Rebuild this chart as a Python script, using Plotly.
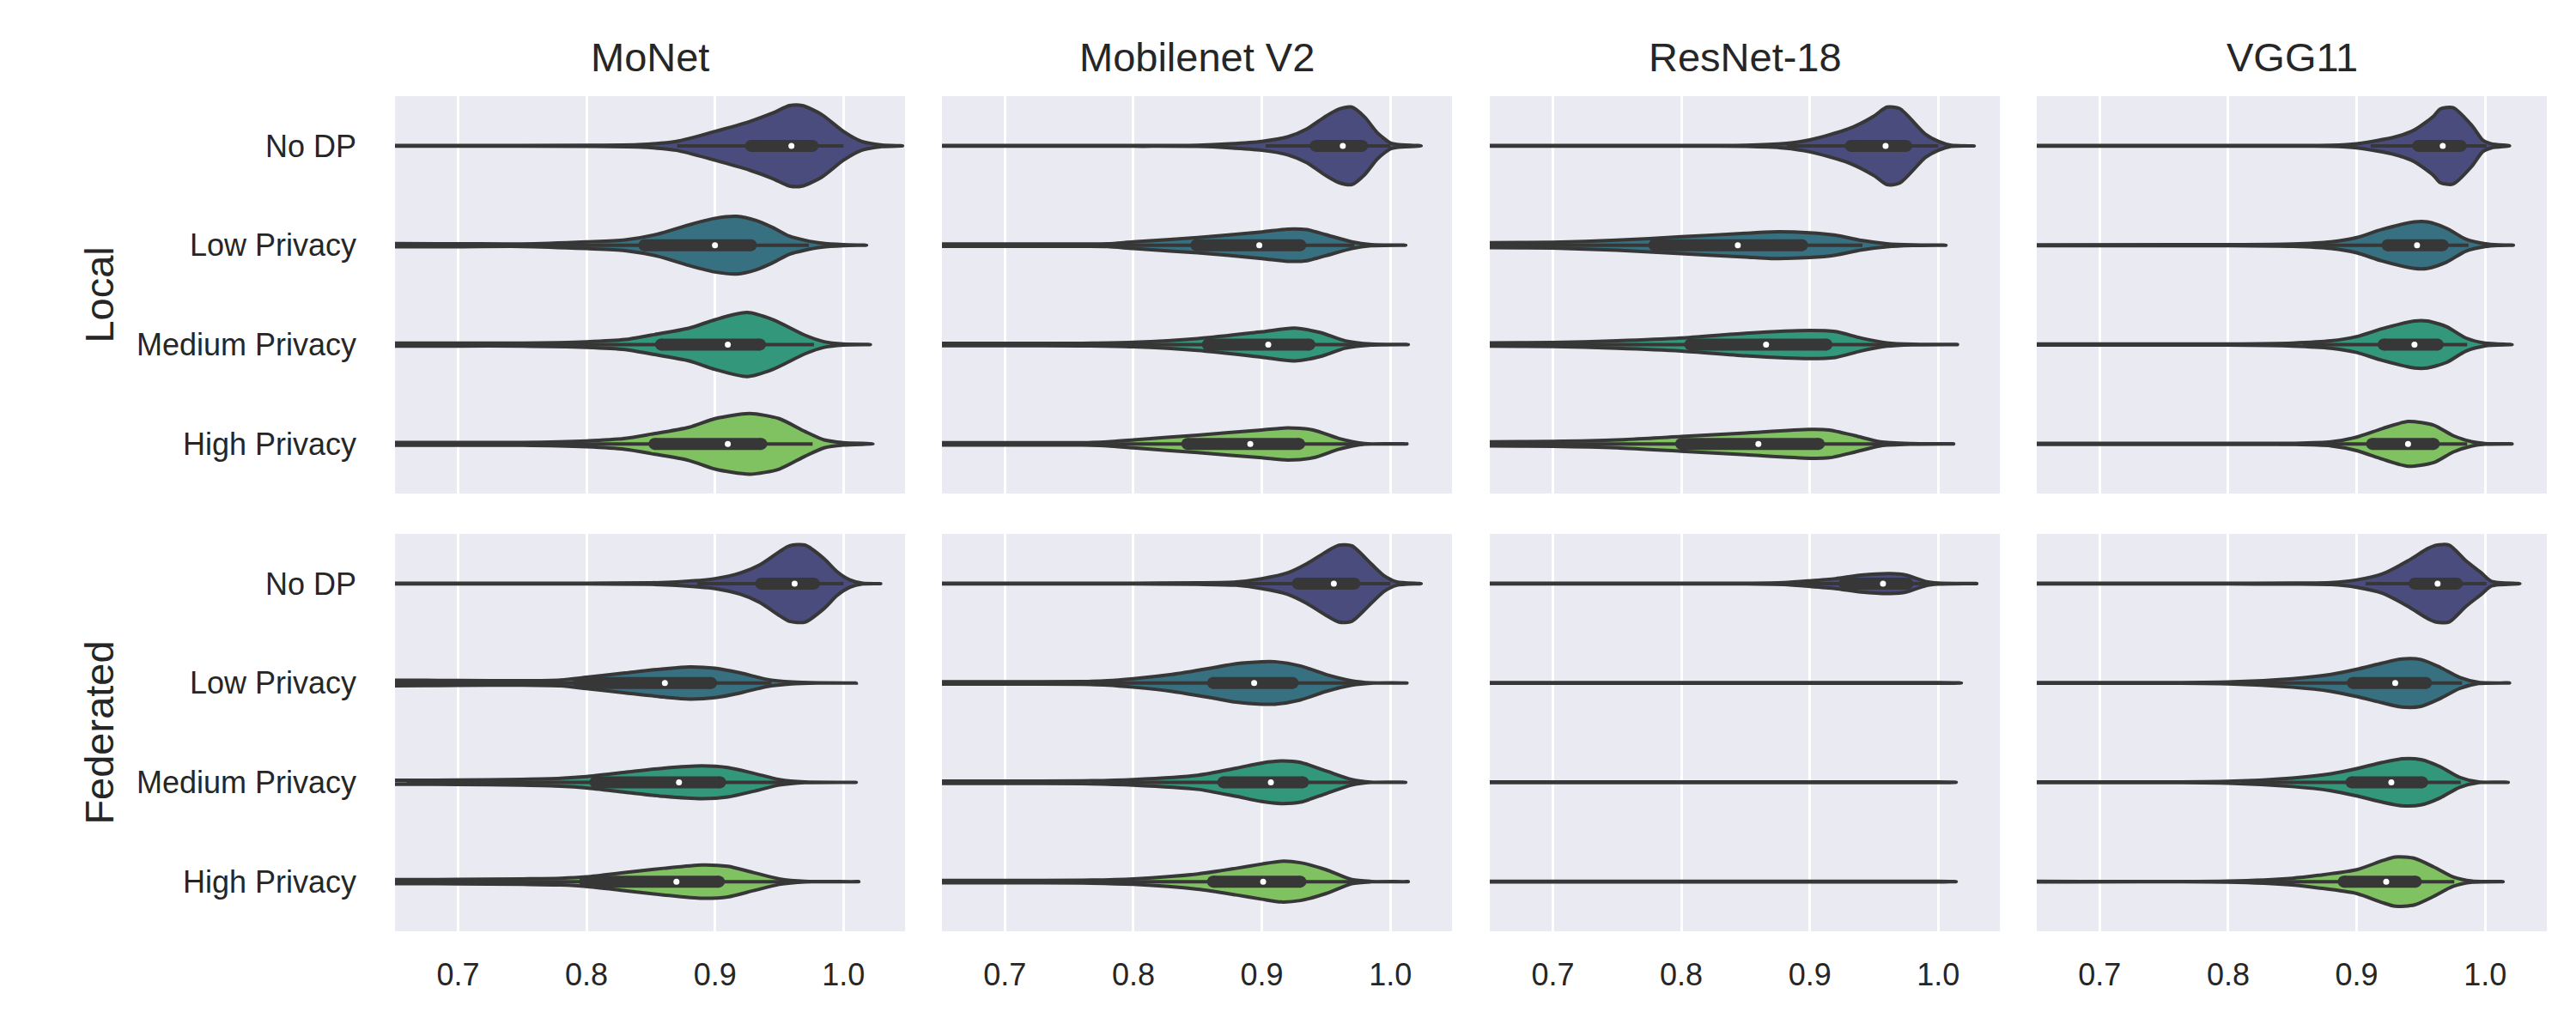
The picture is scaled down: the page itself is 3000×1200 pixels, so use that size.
# Accuracy distributions per model / privacy level, local vs federated training
import plotly.graph_objects as go
from plotly.subplots import make_subplots

# %%
# categories and labels
CATEGORIES = ["No DP", "Low Privacy", "Medium Privacy", "High Privacy"]
MODELS = ["MoNet", "Mobilenet V2", "ResNet-18", "VGG11"]
SETTINGS = ["Local", "Federated"]
X_TICKS = [0.7, 0.8, 0.9, 1.0]

# viridis(4), desaturated like seaborn does for violins
PALETTE = ["#4a4c7e", "#377181", "#33977c", "#80c161"]
LINE = "#373737"
TEXT = "#262626"

# %%
# violin profiles: accuracy points and half-width (category units)
# plus the inner box stats (q1, median, q3, whisker ends)
monet_local = {
    "acc": [
        [0.60, 0.70, 0.80, 0.84, 0.87, 0.90, 0.927, 0.945, 0.958, 0.968, 0.983, 1.0, 1.014, 1.03, 1.046],
        [0.60, 0.70, 0.75, 0.80, 0.83, 0.855, 0.88, 0.90, 0.917, 0.932, 0.945, 0.958, 0.97, 0.983, 1.0, 1.018],
        [0.60, 0.70, 0.75, 0.80, 0.83, 0.85, 0.88, 0.90, 0.925, 0.945, 0.97, 0.985, 1.0, 1.021],
        [0.60, 0.70, 0.75, 0.80, 0.83, 0.85, 0.88, 0.90, 0.927, 0.95, 0.97, 0.985, 1.0, 1.023],
    ],
    "width": [
        [0.004, 0.004, 0.005, 0.012, 0.045, 0.145, 0.245, 0.33, 0.405, 0.405, 0.316, 0.145, 0.045, 0.008, 0.0],
        [0.016, 0.015, 0.013, 0.034, 0.054, 0.11, 0.205, 0.27, 0.29, 0.248, 0.177, 0.09, 0.05, 0.02, 0.005, 0.0],
        [0.015, 0.015, 0.015, 0.028, 0.05, 0.094, 0.165, 0.25, 0.322, 0.25, 0.094, 0.028, 0.005, 0.0],
        [0.015, 0.015, 0.015, 0.03, 0.055, 0.097, 0.168, 0.254, 0.305, 0.254, 0.125, 0.04, 0.012, 0.0],
    ],
    "q1": [0.928, 0.845, 0.858, 0.853],
    "median": [0.9595, 0.90, 0.91, 0.91],
    "q3": [0.976, 0.928, 0.935, 0.936],
    "lo": [0.8705, 0.732, 0.755, 0.74],
    "hi": [1.0, 0.973, 0.977, 0.976],
}

mobilenet_local = {
    "acc": [
        [0.60, 0.80, 0.85, 0.875, 0.90, 0.92, 0.935, 0.95, 0.96, 0.97, 0.98, 0.99, 1.0, 1.005, 1.024],
        [0.60, 0.70, 0.76, 0.78, 0.80, 0.85, 0.90, 0.92, 0.935, 0.95, 0.97, 0.985, 1.012],
        [0.60, 0.70, 0.76, 0.80, 0.85, 0.90, 0.925, 0.945, 0.965, 0.985, 1.014],
        [0.60, 0.70, 0.76, 0.78, 0.80, 0.85, 0.90, 0.92, 0.94, 0.96, 0.98, 1.013],
    ],
    "width": [
        [0.004, 0.004, 0.006, 0.02, 0.045, 0.09, 0.17, 0.30, 0.37, 0.39, 0.29, 0.13, 0.03, 0.015, 0.0],
        [0.012, 0.012, 0.012, 0.014, 0.034, 0.077, 0.134, 0.162, 0.156, 0.105, 0.034, 0.006, 0.0],
        [0.012, 0.012, 0.013, 0.023, 0.06, 0.128, 0.165, 0.122, 0.037, 0.005, 0.0],
        [0.012, 0.012, 0.012, 0.02, 0.04, 0.088, 0.14, 0.162, 0.14, 0.054, 0.003, 0.0],
    ],
    "q1": [0.942, 0.849, 0.858, 0.842],
    "median": [0.963, 0.898, 0.905, 0.891],
    "q3": [0.978, 0.93, 0.937, 0.929],
    "lo": [0.903, 0.727, 0.74, 0.712],
    "hi": [1.0, 0.972, 0.974, 0.972],
}

resnet_local = {
    "acc": [
        [0.60, 0.80, 0.85, 0.88, 0.90, 0.93, 0.95, 0.96, 0.97, 0.99, 1.0, 1.01, 1.028],
        [0.60, 0.65, 0.70, 0.75, 0.80, 0.85, 0.87, 0.90, 0.92, 0.94, 0.96, 0.98, 1.006],
        [0.60, 0.65, 0.70, 0.75, 0.80, 0.85, 0.90, 0.92, 0.94, 0.96, 0.98, 1.015],
        [0.60, 0.65, 0.70, 0.75, 0.80, 0.85, 0.90, 0.915, 0.935, 0.955, 0.98, 1.012],
    ],
    "width": [
        [0.004, 0.004, 0.005, 0.022, 0.06, 0.17, 0.30, 0.39, 0.375, 0.117, 0.045, 0.005, 0.0],
        [0.024, 0.025, 0.03, 0.05, 0.085, 0.12, 0.134, 0.125, 0.10, 0.048, 0.015, 0.003, 0.0],
        [0.016, 0.017, 0.02, 0.037, 0.065, 0.114, 0.142, 0.13, 0.065, 0.017, 0.003, 0.0],
        [0.018, 0.02, 0.025, 0.04, 0.074, 0.11, 0.145, 0.14, 0.083, 0.02, 0.003, 0.0],
    ],
    "q1": [0.932, 0.779, 0.807, 0.80],
    "median": [0.959, 0.844, 0.866, 0.86],
    "q3": [0.975, 0.894, 0.913, 0.907],
    "lo": [0.882, 0.607, 0.648, 0.64],
    "hi": [1.0, 0.941, 0.96, 0.957],
}

vgg_local = {
    "acc": [
        [0.60, 0.85, 0.88, 0.90, 0.93, 0.945, 0.96, 0.965, 0.975, 0.99, 0.998, 1.005, 1.019],
        [0.60, 0.80, 0.85, 0.88, 0.90, 0.92, 0.945, 0.955, 0.97, 0.985, 1.0, 1.01, 1.022],
        [0.60, 0.80, 0.85, 0.88, 0.90, 0.92, 0.945, 0.955, 0.97, 0.985, 1.0, 1.021],
        [0.60, 0.80, 0.85, 0.88, 0.90, 0.92, 0.94, 0.96, 0.975, 0.99, 1.0, 1.021],
    ],
    "width": [
        [0.004, 0.004, 0.005, 0.02, 0.09, 0.16, 0.30, 0.37, 0.385, 0.20, 0.06, 0.02, 0.0],
        [0.004, 0.005, 0.012, 0.034, 0.077, 0.16, 0.234, 0.234, 0.17, 0.06, 0.014, 0.003, 0.0],
        [0.005, 0.006, 0.015, 0.037, 0.08, 0.16, 0.236, 0.236, 0.18, 0.066, 0.014, 0.0],
        [0.005, 0.005, 0.006, 0.02, 0.068, 0.154, 0.225, 0.188, 0.083, 0.02, 0.003, 0.0],
    ],
    "q1": [0.948, 0.924, 0.921, 0.912],
    "median": [0.967, 0.947, 0.945, 0.94],
    "q3": [0.981, 0.967, 0.963, 0.96],
    "lo": [0.911, 0.86, 0.858, 0.84],
    "hi": [1.001, 0.987, 0.986, 0.986],
}

monet_fed = {
    "acc": [
        [0.60, 0.80, 0.85, 0.87, 0.90, 0.92, 0.935, 0.95, 0.958, 0.97, 0.985, 0.995, 1.005, 1.015, 1.029],
        [0.60, 0.65, 0.70, 0.75, 0.78, 0.80, 0.83, 0.86, 0.88, 0.90, 0.92, 0.94, 0.96, 0.98, 1.01],
        [0.60, 0.65, 0.70, 0.75, 0.78, 0.80, 0.83, 0.86, 0.89, 0.91, 0.93, 0.95, 0.97, 1.01],
        [0.60, 0.65, 0.70, 0.75, 0.78, 0.80, 0.83, 0.86, 0.89, 0.91, 0.93, 0.95, 0.97, 1.012],
    ],
    "width": [
        [0.004, 0.004, 0.008, 0.017, 0.05, 0.108, 0.19, 0.32, 0.38, 0.388, 0.25, 0.12, 0.037, 0.003, 0.0],
        [0.028, 0.028, 0.025, 0.022, 0.03, 0.057, 0.10, 0.142, 0.162, 0.148, 0.10, 0.037, 0.009, 0.001, 0.0],
        [0.02, 0.02, 0.022, 0.03, 0.04, 0.057, 0.10, 0.142, 0.165, 0.148, 0.091, 0.028, 0.003, 0.0],
        [0.02, 0.02, 0.022, 0.028, 0.034, 0.048, 0.091, 0.134, 0.168, 0.154, 0.091, 0.028, 0.003, 0.0],
    ],
    "q1": [0.936, 0.794, 0.807, 0.799],
    "median": [0.962, 0.861, 0.872, 0.87],
    "q3": [0.977, 0.897, 0.904, 0.903],
    "lo": [0.886, 0.64, 0.66, 0.643],
    "hi": [1.0, 0.944, 0.965, 0.966],
}

mobilenet_fed = {
    "acc": [
        [0.60, 0.80, 0.85, 0.88, 0.90, 0.92, 0.935, 0.95, 0.96, 0.97, 0.985, 0.995, 1.005, 1.024],
        [0.60, 0.70, 0.76, 0.78, 0.80, 0.83, 0.86, 0.88, 0.90, 0.91, 0.93, 0.95, 0.97, 0.985, 1.013],
        [0.60, 0.70, 0.76, 0.80, 0.85, 0.88, 0.90, 0.915, 0.93, 0.95, 0.97, 0.985, 1.012],
        [0.60, 0.70, 0.76, 0.80, 0.85, 0.88, 0.90, 0.915, 0.93, 0.95, 0.97, 0.985, 1.014],
    ],
    "width": [
        [0.004, 0.004, 0.008, 0.017, 0.05, 0.108, 0.20, 0.32, 0.387, 0.38, 0.20, 0.08, 0.017, 0.0],
        [0.012, 0.012, 0.014, 0.022, 0.043, 0.085, 0.148, 0.194, 0.214, 0.214, 0.171, 0.085, 0.022, 0.002, 0.0],
        [0.012, 0.012, 0.014, 0.028, 0.071, 0.142, 0.194, 0.214, 0.20, 0.114, 0.028, 0.002, 0.0],
        [0.012, 0.012, 0.014, 0.028, 0.077, 0.134, 0.177, 0.205, 0.19, 0.12, 0.02, 0.002, 0.0],
    ],
    "q1": [0.928, 0.862, 0.87, 0.862],
    "median": [0.956, 0.894, 0.907, 0.901],
    "q3": [0.972, 0.924, 0.932, 0.93],
    "lo": [0.874, 0.769, 0.777, 0.76],
    "hi": [1.0, 0.978, 0.974, 0.976],
}

# DP runs of ResNet-18 federated sit far below the shown range, only the tail is visible
resnet_fed = {
    "acc": [
        [0.60, 0.85, 0.88, 0.90, 0.92, 0.94, 0.963, 0.975, 0.99, 1.0, 1.03],
        [0.60, 1.0, 1.018],
        [0.60, 1.0, 1.014],
        [0.60, 1.0, 1.014],
    ],
    "width": [
        [0.004, 0.004, 0.01, 0.028, 0.05, 0.085, 0.10, 0.085, 0.022, 0.006, 0.0],
        [0.004, 0.004, 0.0],
        [0.004, 0.004, 0.0],
        [0.004, 0.004, 0.0],
    ],
    "q1": [0.927, None, None, None],
    "median": [0.957, None, None, None],
    "q3": [0.976, None, None, None],
    "lo": [0.88, None, None, None],
    "hi": [1.0, None, None, None],
}

vgg_fed = {
    "acc": [
        [0.60, 0.80, 0.85, 0.88, 0.90, 0.92, 0.94, 0.955, 0.962, 0.972, 0.985, 0.997, 1.005, 1.027],
        [0.60, 0.80, 0.85, 0.88, 0.90, 0.92, 0.935, 0.95, 0.965, 0.98, 0.995, 1.019],
        [0.60, 0.80, 0.85, 0.88, 0.90, 0.92, 0.935, 0.95, 0.965, 0.98, 0.995, 1.018],
        [0.60, 0.80, 0.85, 0.87, 0.90, 0.92, 0.93, 0.945, 0.96, 0.975, 0.99, 1.014],
    ],
    "width": [
        [0.004, 0.004, 0.005, 0.01, 0.037, 0.097, 0.23, 0.35, 0.387, 0.387, 0.23, 0.108, 0.023, 0.0],
        [0.006, 0.009, 0.043, 0.085, 0.137, 0.20, 0.242, 0.236, 0.157, 0.057, 0.006, 0.0],
        [0.006, 0.009, 0.043, 0.085, 0.137, 0.20, 0.236, 0.228, 0.157, 0.051, 0.003, 0.0],
        [0.006, 0.006, 0.034, 0.063, 0.12, 0.211, 0.248, 0.234, 0.148, 0.048, 0.006, 0.0],
    ],
    "q1": [0.945, 0.897, 0.896, 0.89],
    "median": [0.963, 0.93, 0.927, 0.923],
    "q3": [0.978, 0.954, 0.951, 0.946],
    "lo": [0.907, 0.81, 0.81, 0.806],
    "hi": [1.001, 0.982, 0.981, 0.976],
}

PANELS = {
    ("Local", "MoNet"): monet_local,
    ("Local", "Mobilenet V2"): mobilenet_local,
    ("Local", "ResNet-18"): resnet_local,
    ("Local", "VGG11"): vgg_local,
    ("Federated", "MoNet"): monet_fed,
    ("Federated", "Mobilenet V2"): mobilenet_fed,
    ("Federated", "ResNet-18"): resnet_fed,
    ("Federated", "VGG11"): vgg_fed,
}

# %%
# panel placement (paper coords)
X_DOMAINS = [[0.1507, 0.3487], [0.3630, 0.5610], [0.5757, 0.7737], [0.7880, 0.9860]]
Y_DOMAINS = [[0.5275, 0.9133], [0.1025, 0.4883]]

fig = make_subplots(rows=2, cols=4)

for r, setting in enumerate(SETTINGS):
    for c, model in enumerate(MODELS):
        panel = PANELS[(setting, model)]
        for i, cat in enumerate(CATEGORIES):
            acc = panel["acc"][i]
            half = panel["width"][i]
            # top edge out to the tip, then the bottom edge back
            xs = acc + acc[-2::-1]
            ys = [i - h for h in half] + [i + h for h in half[-2::-1]]
            fig.add_trace(
                go.Scatter(
                    x=xs,
                    y=ys,
                    fill="toself",
                    fillcolor=PALETTE[i],
                    mode="lines",
                    line=dict(color=LINE, width=4, shape="spline", smoothing=0.7),
                    hoverinfo="skip",
                    showlegend=False,
                ),
                row=r + 1,
                col=c + 1,
            )
            if panel["median"][i] is None:
                continue
            # whisker
            fig.add_trace(
                go.Scatter(
                    x=[panel["lo"][i], panel["hi"][i]],
                    y=[i, i],
                    mode="lines",
                    line=dict(color=LINE, width=4),
                    hoverinfo="skip",
                    showlegend=False,
                ),
                row=r + 1,
                col=c + 1,
            )
            # interquartile box with round ends
            fig.add_trace(
                go.Scatter(
                    x=[panel["q1"][i], panel["q3"][i]],
                    y=[i, i],
                    mode="lines+markers",
                    line=dict(color=LINE, width=14),
                    marker=dict(color=LINE, size=14, line=dict(width=0)),
                    hoverinfo="skip",
                    showlegend=False,
                ),
                row=r + 1,
                col=c + 1,
            )
            # median
            fig.add_trace(
                go.Scatter(
                    x=[panel["median"][i]],
                    y=[i],
                    mode="markers",
                    marker=dict(color="white", size=7, line=dict(width=0)),
                    hovertemplate=f"{model} / {setting}<br>{cat}<br>median %{{x:.3f}}<extra></extra>",
                    showlegend=False,
                ),
                row=r + 1,
                col=c + 1,
            )

        fig.update_xaxes(
            domain=X_DOMAINS[c],
            range=[0.651, 1.048],
            tickvals=X_TICKS,
            ticktext=[f"{t:.1f}" for t in X_TICKS],
            showticklabels=(r == 1),
            showgrid=True,
            gridcolor="white",
            gridwidth=3,
            zeroline=False,
            showline=False,
            ticks="",
            ticklabelstandoff=26,
            tickfont=dict(size=36, color=TEXT),
            row=r + 1,
            col=c + 1,
        )
        fig.update_yaxes(
            domain=Y_DOMAINS[r],
            range=[3.5, -0.5],
            tickvals=[0, 1, 2, 3],
            ticktext=CATEGORIES,
            showticklabels=(c == 0),
            showgrid=False,
            zeroline=False,
            showline=False,
            ticks="",
            ticklabelstandoff=44,
            tickfont=dict(size=36, color=TEXT),
            row=r + 1,
            col=c + 1,
        )

# column titles and row labels
annotations = []
for c, model in enumerate(MODELS):
    annotations.append(
        dict(
            text=model,
            x=sum(X_DOMAINS[c]) / 2,
            y=0.951,
            xref="paper",
            yref="paper",
            showarrow=False,
            xanchor="center",
            yanchor="middle",
            font=dict(size=47, color=TEXT),
        )
    )
for r, setting in enumerate(SETTINGS):
    annotations.append(
        dict(
            text=setting,
            x=0.0357,
            y=sum(Y_DOMAINS[r]) / 2,
            xref="paper",
            yref="paper",
            showarrow=False,
            textangle=-90,
            xanchor="center",
            yanchor="middle",
            font=dict(size=47, color=TEXT),
        )
    )

fig.update_layout(
    width=3000,
    height=1200,
    margin=dict(l=0, r=0, t=0, b=0),
    plot_bgcolor="#eaeaf2",
    paper_bgcolor="white",
    font=dict(family="Liberation Sans, Arial, sans-serif", color=TEXT),
    annotations=annotations,
    showlegend=False,
)

fig.write_html("out.html")
